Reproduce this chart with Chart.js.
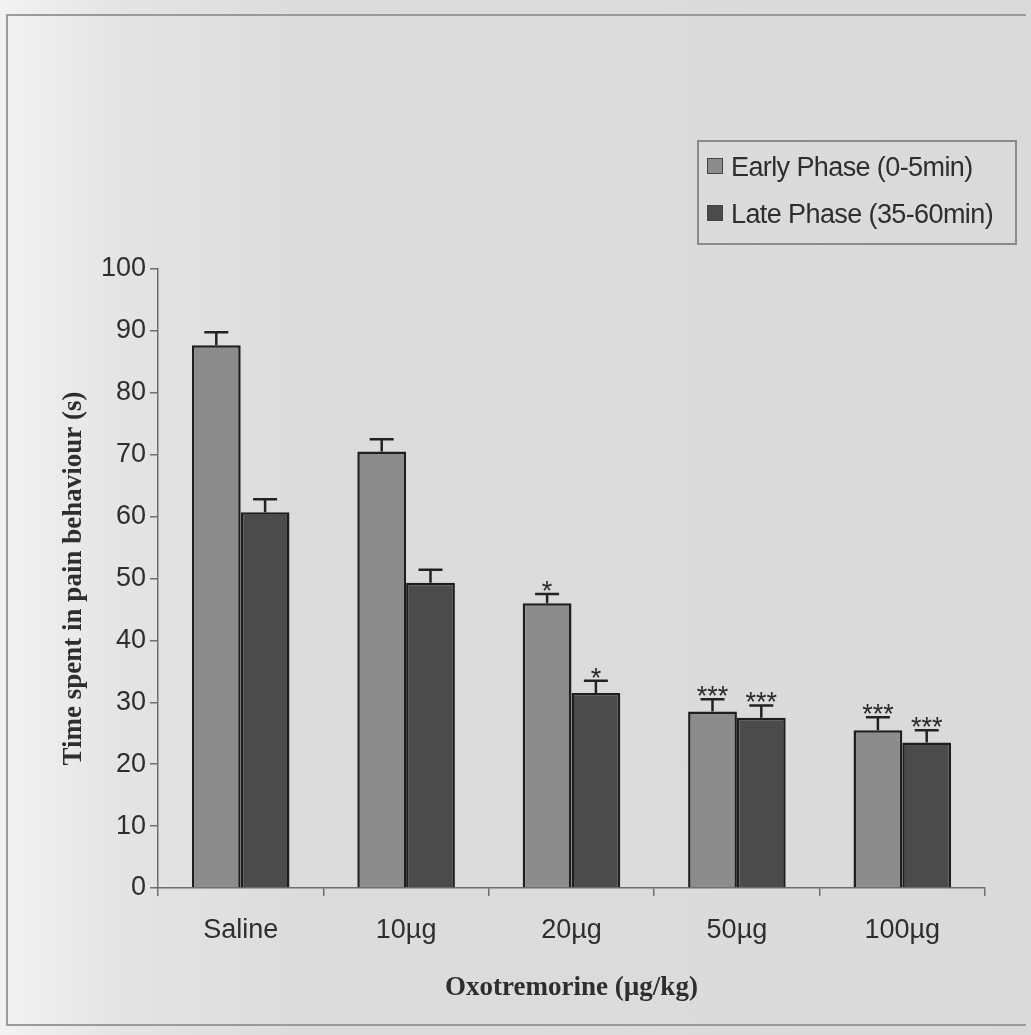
<!DOCTYPE html>
<html>
<head>
<meta charset="utf-8">
<title>Oxotremorine</title>
<script src="https://cdn.jsdelivr.net/npm/chart.js"></script>
<style>
body{margin:0;background:#dcdcdc;}
#wrap{position:relative;width:1031px;height:1035px;overflow:hidden;
  background:linear-gradient(to right,#f2f2f2 0px,#e4e4e4 120px,#dcdcdc 300px,#dadada 100%);}
#frame{position:absolute;left:6px;top:14px;width:1018px;height:1008px;border:2px solid #9a9a9a;border-right:none;pointer-events:none;}
#legenda{position:absolute;left:697px;top:140px;width:316px;height:101px;border:2px solid #8a8a8a;
  font-family:"Liberation Sans",Arial,sans-serif;font-size:27px;color:#2e2e2e;letter-spacing:-0.6px;}
#legenda div{position:absolute;left:8px;white-space:nowrap;}
#legenda span{display:inline-block;width:14px;height:14px;margin-right:8px;vertical-align:2px;border:1px solid #444;}
</style>
</head>
<body>
<div id="wrap">
<canvas id="myCanvas" width="1031" height="1035"></canvas>
<div id="frame"></div>
<div id="legenda"></div>
</div>
<script>
// dati
var categorie = ["Saline", "10µg", "20µg", "50µg", "100µg"];
var nomiSerie = ["Early Phase (0-5min)", "Late Phase (35-60min)"];
var early = [87.7, 70.5, 46, 28.5, 25.5];
var late = [60.7, 49.3, 31.5, 27.5, 23.5];
var erroreEarly = [2.1, 2.0, 1.5, 2.0, 2.1];
var erroreLate = [2.1, 2.1, 2.0, 2.0, 2.0];
var sigEarly = ["", "", "*", "***", "***"];
var sigLate = ["", "", "*", "***", "***"];
var tickY = [0, 10, 20, 30, 40, 50, 60, 70, 80, 90, 100];

var coloreEarly = "#8c8c8c";
var coloreLate = "#4b4b4b";

// legenda html
var leg = document.getElementById("legenda");
leg.innerHTML =
  '<div style="top:10px"><span style="background:' + coloreEarly + '"></span>' + nomiSerie[0] + '</div>' +
  '<div style="top:57px"><span style="background:' + coloreLate + '"></span>' + nomiSerie[1] + '</div>';

// barre di errore + asterischi
var erroriPlugin = {
  id: "errori",
  afterDatasetsDraw: function(chart) {
    var ctx = chart.ctx;
    var scalaY = chart.scales.y;
    var errori = [erroreEarly, erroreLate];
    var sig = [sigEarly, sigLate];
    ctx.save();
    chart.data.datasets.forEach(function(ds, i) {
      var meta = chart.getDatasetMeta(i);
      meta.data.forEach(function(bar, j) {
        var yTop = scalaY.getPixelForValue(ds.data[j] + errori[i][j]);
        ctx.strokeStyle = "#222";
        ctx.lineWidth = 2.5;
        ctx.beginPath();
        ctx.moveTo(bar.x, bar.y);
        ctx.lineTo(bar.x, yTop);
        ctx.moveTo(bar.x - 12, yTop);
        ctx.lineTo(bar.x + 12, yTop);
        ctx.stroke();
        if (sig[i][j] != "") {
          ctx.fillStyle = "#2a2a2a";
          ctx.font = "27px 'Liberation Sans', Arial, sans-serif";
          ctx.textAlign = "center";
          ctx.textBaseline = "alphabetic";
          ctx.fillText(sig[i][j], bar.x, yTop + 6);
        }
      });
    });
    ctx.restore();
  }
};

var myCanvas = document.getElementById("myCanvas").getContext("2d");
var chart = new Chart(myCanvas, {
  type: "bar",
  data: {
    labels: categorie,
    datasets: [{
      label: nomiSerie[0],
      data: early,
      backgroundColor: coloreEarly,
      borderColor: "#1e1e1e",
      borderWidth: 2.5
    }, {
      label: nomiSerie[1],
      data: late,
      backgroundColor: coloreLate,
      borderColor: "#1e1e1e",
      borderWidth: 2.5
    }]
  },
  options: {
    responsive: false,
    animation: false,
    layout: { padding: { left: 0, top: 269, right: 46, bottom: 0 } },
    plugins: {
      legend: { display: false },
      tooltip: { enabled: false }
    },
    datasets: { bar: { barPercentage: 1.0, categoryPercentage: 0.59 } },
    scales: {
      x: {
        grid: { drawOnChartArea: false, drawTicks: true, tickLength: 8, color: "#6e6e6e", lineWidth: 1.5 },
        border: { display: true, color: "#6e6e6e", width: 1.5 },
        ticks: { color: "#2e2e2e", padding: 18, font: { family: "'Liberation Sans', Arial, sans-serif", size: 27 } },
        title: {
          display: true,
          text: "Oxotremorine (µg/kg)",
          color: "#2e2e2e",
          font: { family: "'Liberation Serif', 'Times New Roman', serif", size: 27, weight: "bold" },
          padding: { top: 0, bottom: 31 }
        },
        afterFit: function(scale) { scale.height = 147; }
      },
      y: {
        min: 0,
        max: 100,
        afterBuildTicks: function(scale) {
          scale.ticks = tickY.map(function(v) { return { value: v }; });
        },
        grid: { drawOnChartArea: false, drawTicks: true, tickLength: 8, color: "#6e6e6e", lineWidth: 1.5 },
        border: { display: true, color: "#6e6e6e", width: 1.5 },
        ticks: { color: "#2e2e2e", padding: 4, font: { family: "'Liberation Sans', Arial, sans-serif", size: 27 } },
        title: {
          display: true,
          text: "Time spent in pain behaviour (s)",
          color: "#2e2e2e",
          font: { family: "'Liberation Serif', 'Times New Roman', serif", size: 27, weight: "bold" },
          padding: { top: 58, bottom: 0 }
        },
        afterFit: function(scale) { scale.width = 158; }
      }
    }
  },
  plugins: [erroriPlugin]
});
console.log(chart.chartArea);
</script>
</body>
</html>
